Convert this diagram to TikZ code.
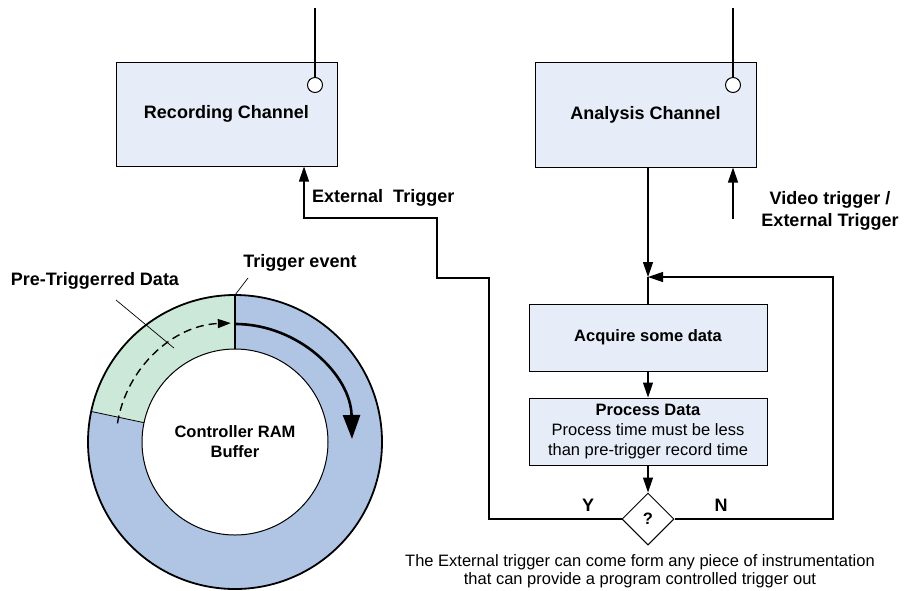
\documentclass[tikz,border=0pt]{standalone}
\usepackage{fontspec}
\setmainfont{Liberation Sans}
\usetikzlibrary{shapes.geometric,arrows.meta,calc}
\definecolor{boxfill}{RGB}{231,237,248}
\definecolor{ringblue}{RGB}{176,196,228}
\definecolor{ringgreen}{RGB}{204,232,216}
\begin{document}
\begin{tikzpicture}[x=1pt,y=-1pt,
  box/.style={draw, line width=1pt, fill=boxfill, inner sep=0pt, align=center},
  conn/.style={line width=1.2pt},
  arr/.style={conn, -{Triangle[length=15pt,width=10pt]}},
  bigb/.style={font=\fontsize{18}{22}\selectfont\bfseries},
  medb/.style={font=\fontsize{16.5}{20}\selectfont\bfseries},
  med/.style={font=\fontsize{16.5}{18.3}\selectfont},
  antc/.style={circle, draw, line width=1pt, fill=white, minimum size=15pt, inner sep=0pt},
  lbl/.style={inner sep=0pt},
]
\useasboundingbox (0,0) rectangle (917,590);

% ---------- ring buffer ----------
\begin{scope}[x=1pt,y=1pt,shift={(235pt,-442pt)}]
  \fill[ringblue, even odd rule] (0,0) circle (147) (0,0) circle (93);
  \fill[ringgreen] (90:147) arc (90:168:147) -- (168:93) arc (168:90:93) -- cycle;
  \draw[line width=0.8pt] (168:93) -- (168:147);
  \draw[line width=1.8pt] (0,0) circle (147);
  \draw[line width=1pt] (0,0) circle (93);
  \draw[line width=2.4pt] (90:93) -- (90:147.5);
  \draw[line width=1.4pt, dash pattern=on 8pt off 5pt, -{Triangle[length=13pt,width=9pt]}]
     (171:119) arc (171:92:119);
  \draw[line width=2.6pt, -{Triangle[length=24pt,width=17pt]}]
     (90:118) arc (90:1:117);
  \coordinate (tev) at (90:147);
  \coordinate (ptd) at (123:112);
\end{scope}

\node[lbl, medb, align=center] (ram) at (235,442) {Controller RAM\\Buffer};
\node[lbl, bigb] (pretxt) at (95,281) {Pre-Triggerred Data};
\node[lbl, bigb] (trgtxt) at (300,263) {Trigger event};
\coordinate (pre1) at (116,300);
\coordinate (trg1) at (248,278);
\draw[line width=0.7pt] (pre1) -- (ptd);
\draw[line width=0.7pt] (trg1) -- (tev);

% ---------- boxes ----------
\node[box, bigb, minimum width=221pt, minimum height=104pt] (rec) at (226.5,114) {Recording Channel};
\node[box, bigb, minimum width=221pt, minimum height=105pt] (ana) at (645.5,114.5) {Analysis Channel};
\node[box, medb, minimum width=238pt, minimum height=67pt] (acq) at (648,337.5) {Acquire some data};
\node[box, med, minimum width=238pt, minimum height=67pt] (proc) at (648,431.5)
  {\textbf{Process Data}\\[1.7pt]Process time must be less\\[1.7pt]than pre-trigger record time};
\node[diamond, draw, line width=1pt, fill=white, minimum width=52pt, minimum height=52pt, inner sep=0pt,
      font=\fontsize{16.5}{20}\selectfont\bfseries] (q) at (648,519) {?};

% ---------- antennas ----------
\node[antc] (rc) at (315,85) {};
\node[antc] (ac) at (733,85) {};
\coordinate (rtop) at (315,8);
\coordinate (atop) at (733,8);
\draw[line width=1.5pt] (rtop) -- (rc.north);
\draw[line width=1.5pt] (atop) -- (ac.north);

% ---------- connectors ----------
\coordinate (junc) at (648,277);
\draw[arr] (junc |- ana.south) -- (junc);
\draw[conn] (junc) -- (acq.north);
\draw[arr] (acq.south) -- (proc.north);
\draw[arr] (proc.south) -- (q.north);
\draw[arr] (q.east) -- (833,519) -- (833,277) -- (junc);
\coordinate (extb) at (304,218);
\draw[arr] (q.west) -- (489,519) -- (489,278) -- (437,278) -- (437,218) -- (extb) -- (extb |- rec.south);
\coordinate (vt) at (733,219);
\draw[arr] (vt) -- (vt |- ana.south);

% ---------- labels ----------
\node[lbl, bigb, anchor=west] (exttxt) at (312,198) {External\ \ Trigger};
\node[lbl, bigb, align=center] (vttxt) at (830,211) {Video trigger /\\External Trigger};
\node[lbl, bigb] (ylab) at (588,505) {Y};
\node[lbl, bigb] (nlab) at (721,505) {N};
\node[lbl, med, align=center] (cap) at (640,571)
  {The External trigger can come form any piece of instrumentation\\that can provide a program controlled trigger out};
\end{tikzpicture}
\end{document}
